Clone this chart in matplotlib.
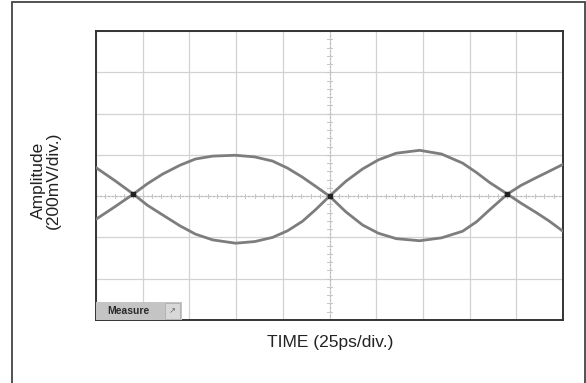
import numpy as np
import matplotlib
matplotlib.use("Agg")
import matplotlib.pyplot as plt
from matplotlib.patches import Rectangle

# trace samples, in divisions (x: 25ps/div, y: 200mV/div)
x_div = [-5.0, -4.6, -4.2, -3.9, -3.58, -3.2, -2.87, -2.5, -2.01, -1.6,
         -1.22, -0.9, -0.58, -0.3, 0.0, 0.35, 0.71, 1.05, 1.43, 1.93,
         2.4, 2.85, 3.15, 3.43, 3.81, 4.1, 4.43, 4.7, 5.0]
trace_a = [0.69, 0.38, 0.05, -0.22, -0.45, -0.72, -0.92, -1.06, -1.14, -1.10,
           -1.00, -0.84, -0.61, -0.33, 0.0, 0.36, 0.66, 0.88, 1.04, 1.11,
           1.02, 0.80, 0.57, 0.33, 0.05, -0.17, -0.40, -0.60, -0.85]
trace_b = [-0.56, -0.26, 0.05, 0.30, 0.53, 0.75, 0.90, 0.97, 0.99, 0.95,
           0.85, 0.68, 0.46, 0.24, 0.0, -0.38, -0.70, -0.90, -1.03, -1.08,
           -1.01, -0.85, -0.62, -0.33, 0.05, 0.26, 0.45, 0.60, 0.77]

# crossing points of the eye
cross_x = [-4.2, 0.0, 3.81]
cross_y = [0.05, 0.0, 0.05]

x_lim = (-5, 5)
y_lim = (-3, 4)

plt.rcParams["font.family"] = ["Liberation Sans", "DejaVu Sans"]

fig = plt.figure(figsize=(5.86, 3.83), dpi=100)
ax = fig.add_axes([96 / 586, 1 - 320 / 383, 467 / 586, 289 / 383])

# outer frame of the figure
fig.patches.append(Rectangle((12 / 586, -0.05), 573 / 586, 1.047 - 1 / 383,
                             transform=fig.transFigure, fill=False,
                             ec="#444444", lw=1.3))

ax.set_xlim(*x_lim)
ax.set_ylim(*y_lim)
ax.set_xticks(np.arange(-5, 6, 1))
ax.set_yticks(np.arange(-3, 5, 1))
ax.tick_params(length=0, labelbottom=False, labelleft=False)
ax.grid(True, color="#d2d2d2", lw=0.9)
ax.set_axisbelow(True)
for s in ax.spines.values():
    s.set_color("#333333")
    s.set_linewidth(1.4)

# dotted centre axes with small graticule ticks
ax.axhline(0, color="#b8b8b8", lw=0.8, ls=(0, (1.5, 2.0)), zorder=1)
ax.axvline(0, color="#b8b8b8", lw=0.8, ls=(0, (1.5, 2.0)), zorder=1)
for t in np.arange(-5, 5.01, 0.2):
    ax.plot([t, t], [-0.05, 0.05], color="#c6c6c6", lw=0.7, zorder=1)
for t in np.arange(-3, 4.01, 0.2):
    ax.plot([-0.05, 0.05], [t, t], color="#c6c6c6", lw=0.7, zorder=1)

ax.plot(x_div, trace_a, color="#7d7d7d", lw=2.0, solid_joinstyle="round",
        solid_capstyle="round", zorder=3)
ax.plot(x_div, trace_b, color="#7d7d7d", lw=2.0, solid_joinstyle="round",
        solid_capstyle="round", zorder=3)
ax.scatter(cross_x, cross_y, s=10, marker="s", color="#222222", zorder=4)

# "Measure" button in the lower-left corner
ax.add_patch(Rectangle((0, 0), 86 / 467, 18 / 289, transform=ax.transAxes,
                       fc="#c4c4c4", ec="none", zorder=5))
ax.add_patch(Rectangle((69 / 467, 1 / 289), 15 / 467, 16 / 289, transform=ax.transAxes,
                       fc="#d8d8d8", ec="#b0b0b0", lw=0.6, zorder=6))
ax.text(11 / 467, 9 / 289, "Measure", transform=ax.transAxes, fontsize=7.5,
        fontweight="bold", color="#2a2a2a", va="center", ha="left", zorder=7)
ax.text(76.5 / 467, 9 / 289, "\u2197", transform=ax.transAxes, fontsize=6,
        color="#666666", va="center", ha="center", zorder=7,
        family=["DejaVu Sans"])

fig.text(330 / 586, 1 - 342 / 383, "TIME (25ps/div.)", ha="center", va="center",
         fontsize=12.5, color="#222222")
fig.text(46 / 586, 1 - 180 / 383, "Amplitude\n(200mV/div.)", ha="center",
         va="center", rotation=90, fontsize=12.5, color="#222222", linespacing=1.0)

fig.savefig("out.png", dpi=100)
